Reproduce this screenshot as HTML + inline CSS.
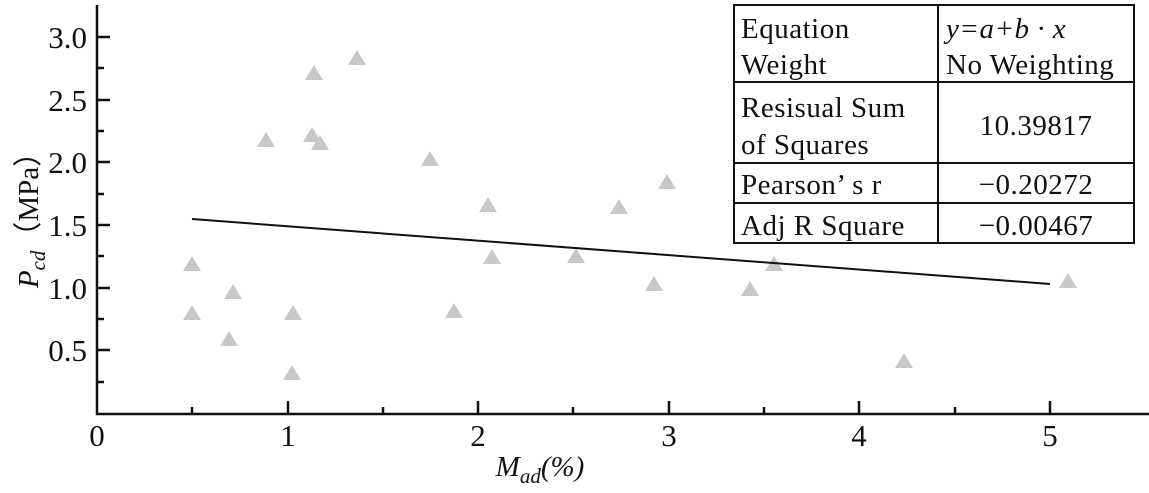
<!DOCTYPE html>
<html><head><style>body{margin:0;background:#fff}svg{display:block}</style></head><body>
<svg width="1149" height="493" xmlns="http://www.w3.org/2000/svg" font-family="Liberation Serif, serif" fill="#111">
<g stroke="#111" stroke-width="2.5" fill="none">
<path d="M97,5 V414 H1149"/>
<path d="M97,37h13M97,100h13M97,162h13M97,225h13M97,288h13M97,350h13M97,68h7M97,131h7M97,194h7M97,256h7M97,319h7M97,382h7"/>
<path d="M288,414v-13M478,414v-13M669,414v-13M859,414v-13M1050,414v-13M192,414v-7M383,414v-7M573,414v-7M764,414v-7M955,414v-7"/>
</g>
<g font-size="31" text-anchor="end">
<text x="87" y="48">3.0</text><text x="87" y="111">2.5</text><text x="87" y="173">2.0</text><text x="87" y="236">1.5</text><text x="87" y="299">1.0</text><text x="87" y="361">0.5</text>
</g>
<g font-size="31" text-anchor="middle">
<text x="97" y="446">0</text><text x="288" y="446">1</text><text x="478" y="446">2</text><text x="669" y="446">3</text><text x="859" y="446">4</text><text x="1050" y="446">5</text>
</g>
<text transform="translate(38,213) rotate(-90)" font-size="29" text-anchor="middle"><tspan font-style="italic">P</tspan><tspan font-style="italic" font-size="21" dy="7">cd</tspan><tspan dy="-7">（MPa）</tspan></text>
<text x="540" y="476" font-size="29" text-anchor="middle" font-style="italic">M<tspan font-size="21" dy="7">ad</tspan><tspan dy="-7">(%)</tspan></text>
<g fill="#c8c8c8">
<path d="M192,256l9,15h-18zM192,305l9,15h-18zM229,331l9,15h-18zM233,284l9,15h-18zM266,132l9,15h-18zM292,365l9,15h-18zM293,305l9,15h-18zM312,127l9,15h-18zM314,65l9,15h-18zM320,135l9,15h-18zM357,50l9,15h-18zM430,151l9,15h-18zM454,303l9,15h-18zM488,197l9,15h-18zM492,249l9,15h-18zM576,248l9,15h-18zM619,199l9,15h-18zM654,276l9,15h-18zM667,174l9,15h-18zM750,281l9,15h-18zM774,256l9,15h-18zM904,353l9,15h-18zM1068,273l9,15h-18z"/>
</g>
<line x1="192" y1="219" x2="1050" y2="284" stroke="#111" stroke-width="2"/>
<rect x="734" y="5" width="400" height="238" fill="#fff" stroke="#111" stroke-width="2"/>
<path d="M938,5V243M734,82H1134M734,163H1134M734,203H1134" stroke="#111" stroke-width="2"/>
<g font-size="29" letter-spacing="0.5">
<text x="741" y="38">Equation</text><text x="741" y="74">Weight</text>
<text x="946" y="38" font-style="italic">y=a+b · x</text><text x="946" y="74">No Weighting</text>
<text x="741" y="117">Resisual Sum</text><text x="741" y="154">of Squares</text>
<text x="1036" y="135" text-anchor="middle">10.39817</text>
<text x="741" y="194">Pearson’ s r</text><text x="1036" y="194" text-anchor="middle">−0.20272</text>
<text x="741" y="235">Adj R Square</text><text x="1036" y="235" text-anchor="middle">−0.00467</text>
</g>
</svg>
</body></html>
